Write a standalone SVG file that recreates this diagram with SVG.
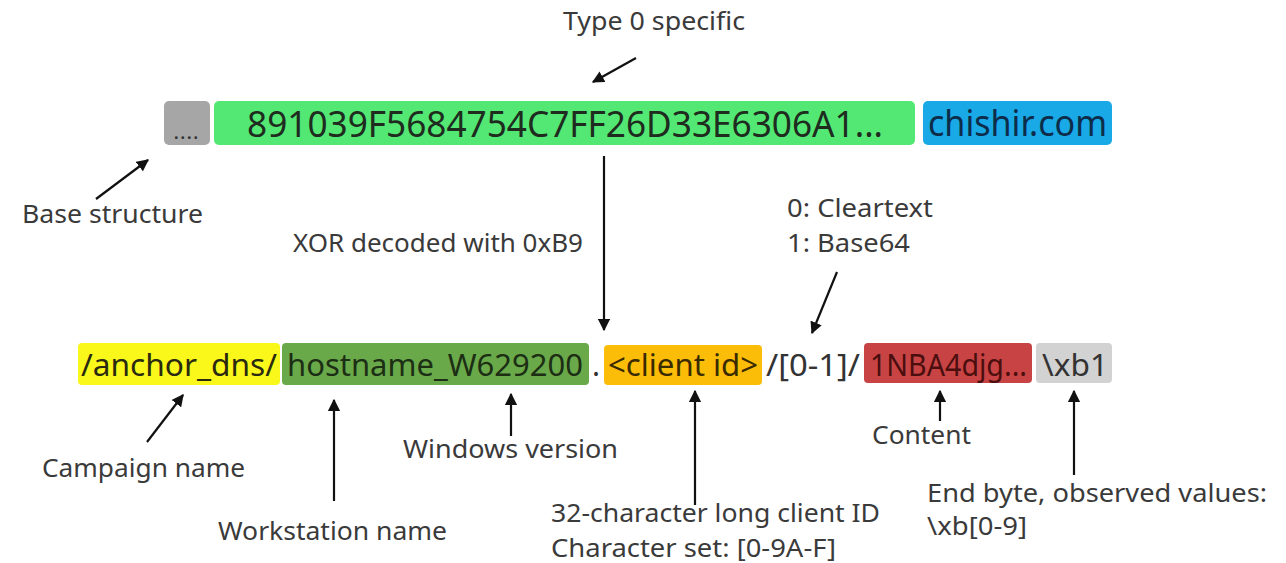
<svg xmlns="http://www.w3.org/2000/svg" width="1286" height="563" viewBox="0 0 1286 563">
  <style>
    .lbl { font-family: "Noto Sans", "Open Sans", sans-serif; font-size: 26px; fill: #3a3a3a; }
    .top { font-family: "Noto Sans", "Open Sans", sans-serif; font-size: 36px; }
    .seg { font-family: "Noto Sans", "Open Sans", sans-serif; font-size: 30px; }
    .arrow { stroke: #111; stroke-width: 2.2; fill: none; marker-end: url(#head); }
  </style>
  <defs>
    <marker id="head" viewBox="0 0 10 10" refX="9" refY="5" markerWidth="5.5" markerHeight="5.5" orient="auto" markerUnits="strokeWidth">
      <path d="M0,0 L10,5 L0,10 z" fill="#111"/>
    </marker>
  </defs>
  <rect width="1286" height="563" fill="#ffffff"/>

  <!-- top row: encoded query -->
  <g id="base">
    <rect x="164" y="101" width="46" height="44" rx="5" fill="#a6a6a6"/>
    <text x="187" y="139" text-anchor="middle" font-family="Noto Sans, sans-serif" font-size="16" font-weight="bold" fill="#333" letter-spacing="2">....</text>
  </g>
  <g id="encoded">
    <rect x="214" y="101" width="701" height="44" rx="5" fill="#52e873"/>
    <text class="top" x="247" y="137" fill="#1e2b1e" textLength="636" lengthAdjust="spacingAndGlyphs">891039F5684754C7FF26D33E6306A1...</text>
  </g>
  <g id="domain">
    <rect x="923" y="101" width="189" height="44" rx="5" fill="#18a9e6"/>
    <text class="top" x="928" y="136" fill="#0d2c4a" textLength="179" lengthAdjust="spacingAndGlyphs">chishir.com</text>
  </g>

  <!-- top labels -->
  <g id="label-type0">
    <text class="lbl" x="563" y="30" textLength="182" lengthAdjust="spacingAndGlyphs">Type 0 specific</text>
  </g>
  <g id="label-base">
    <text class="lbl" x="22" y="223" textLength="181" lengthAdjust="spacingAndGlyphs">Base structure</text>
  </g>
  <g id="label-xor">
    <text class="lbl" x="293" y="252" textLength="290" lengthAdjust="spacingAndGlyphs">XOR decoded with 0xB9</text>
  </g>
  <g id="label-mode">
    <text class="lbl" x="787" y="217" textLength="146" lengthAdjust="spacingAndGlyphs">0: Cleartext</text>
    <text class="lbl" x="787" y="252" textLength="123" lengthAdjust="spacingAndGlyphs">1: Base64</text>
  </g>

  <!-- bottom row: decoded structure -->
  <g id="campaign">
    <rect x="78" y="343" width="202" height="42" rx="4" fill="#f9f81a"/>
    <text class="seg" x="81" y="376" fill="#2a2a10" textLength="196" lengthAdjust="spacingAndGlyphs">/anchor_dns/</text>
  </g>
  <g id="hostname">
    <rect x="282" y="343" width="307" height="42" rx="4" fill="#6aa94a"/>
    <text class="seg" x="287" y="376" fill="#1c2e14" textLength="296" lengthAdjust="spacingAndGlyphs">hostname_W629200</text>
  </g>
  <text class="seg" x="592" y="376" fill="#333">.</text>
  <g id="clientid">
    <rect x="604" y="345" width="158" height="40" rx="4" fill="#fbbd08"/>
    <text class="seg" x="608" y="376" fill="#3a2a00" textLength="150" lengthAdjust="spacingAndGlyphs">&lt;client id&gt;</text>
  </g>
  <g id="mode">
    <text class="seg" x="766" y="376" fill="#333" textLength="94" lengthAdjust="spacingAndGlyphs">/[0-1]/</text>
  </g>
  <g id="content">
    <rect x="864" y="343" width="168" height="40" rx="4" fill="#c84444"/>
    <text class="seg" x="870" y="376" fill="#4a0e0e" textLength="157" lengthAdjust="spacingAndGlyphs">1NBA4djg...</text>
  </g>
  <g id="endbyte">
    <rect x="1036" y="343" width="76" height="40" rx="4" fill="#d2d2d2"/>
    <text class="seg" x="1042" y="376" fill="#333" textLength="66" lengthAdjust="spacingAndGlyphs">\xb1</text>
  </g>

  <!-- bottom labels -->
  <g id="label-campaign">
    <text class="lbl" x="42" y="477" textLength="203" lengthAdjust="spacingAndGlyphs">Campaign name</text>
  </g>
  <g id="label-workstation">
    <text class="lbl" x="218" y="540" textLength="229" lengthAdjust="spacingAndGlyphs">Workstation name</text>
  </g>
  <g id="label-windows">
    <text class="lbl" x="403" y="458" textLength="215" lengthAdjust="spacingAndGlyphs">Windows version</text>
  </g>
  <g id="label-client">
    <text class="lbl" x="551" y="522" textLength="329" lengthAdjust="spacingAndGlyphs">32-character long client ID</text>
    <text class="lbl" x="551" y="557" textLength="285" lengthAdjust="spacingAndGlyphs">Character set: [0-9A-F]</text>
  </g>
  <g id="label-content">
    <text class="lbl" x="872" y="444" textLength="99" lengthAdjust="spacingAndGlyphs">Content</text>
  </g>
  <g id="label-end">
    <text class="lbl" x="927" y="502" textLength="340" lengthAdjust="spacingAndGlyphs">End byte, observed values:</text>
    <text class="lbl" x="927" y="535" textLength="100" lengthAdjust="spacingAndGlyphs">\xb[0-9]</text>
  </g>

  <!-- connectors -->
  <g id="connectors">
    <line class="arrow" x1="636" y1="58" x2="593" y2="82"/>
    <line class="arrow" x1="96" y1="199" x2="148" y2="160"/>
    <line class="arrow" x1="604" y1="156" x2="604" y2="330"/>
    <line class="arrow" x1="837" y1="272" x2="812" y2="333"/>
    <line class="arrow" x1="147" y1="442" x2="183" y2="395"/>
    <line class="arrow" x1="334" y1="501" x2="334" y2="400"/>
    <line class="arrow" x1="511" y1="436" x2="511" y2="394"/>
    <line class="arrow" x1="695" y1="505" x2="695" y2="391"/>
    <line class="arrow" x1="940" y1="421" x2="940" y2="391"/>
    <line class="arrow" x1="1074" y1="475" x2="1074" y2="391"/>
  </g>
</svg>
